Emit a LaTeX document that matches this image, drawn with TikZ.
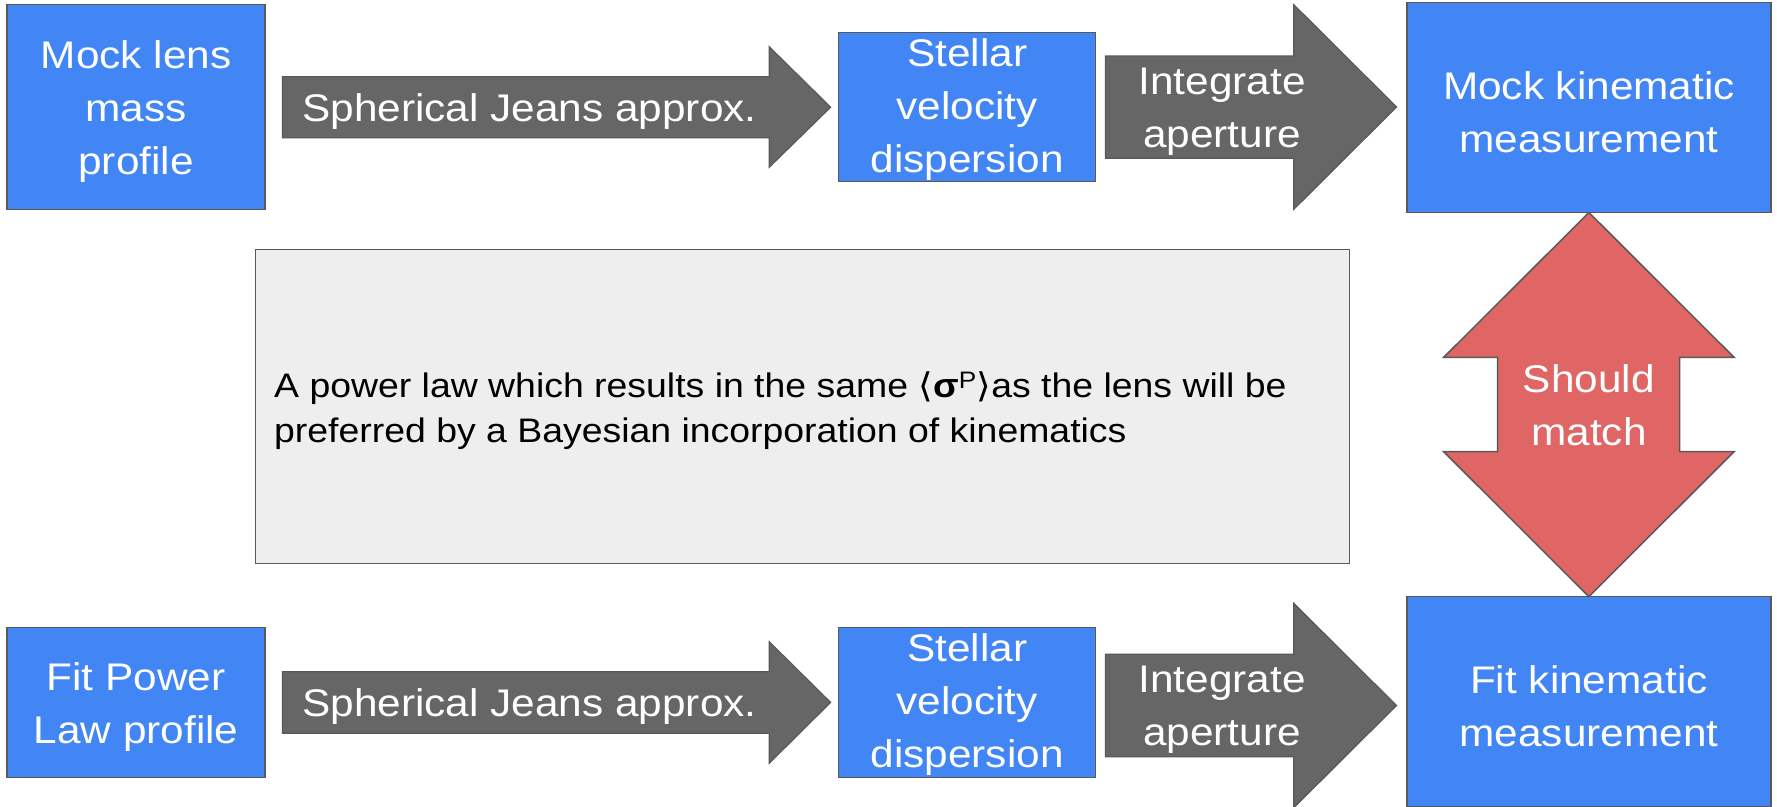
\documentclass[tikz,border=0pt]{standalone}
\usepackage{fontspec}
\setmainfont{Liberation Sans}[FakeStretch=1.1]
\newfontfamily\brkfont{DejaVu Sans}[FakeStretch=1.1]

\definecolor{gblue}{HTML}{4285F4}
\definecolor{garrow}{HTML}{666666}
\definecolor{gred}{HTML}{E06666}
\definecolor{gpanel}{HTML}{EEEEEE}
\definecolor{gedge}{HTML}{595959}

\newcommand\lblfont{\fontsize{38.5}{53}\selectfont}
\newcommand\notefont{\fontsize{34}{45}\selectfont}

\begin{document}
\begin{tikzpicture}[x=1pt,y=-1pt,
  box/.style={draw=gedge, line width=1.5pt, fill=gblue,
    inner sep=0pt, outer sep=0pt},
  barrow/.style={draw=gedge, line width=1.2pt, fill=garrow, line join=miter},
  rarrow/.style={draw=gedge, line width=1.5pt, fill=gred, line join=miter},
  alabel/.style={text=white, inner sep=0pt, align=center, font=\lblfont, yshift=-4.5pt},
  panel/.style={draw=gedge, line width=1.5pt, fill=gpanel,
    inner sep=0pt, outer sep=0pt}]

\useasboundingbox (0,0) rectangle (1777,806);
\fill[white] (0,0) rectangle (1777,806);

% central note panel
\node[panel, minimum width=1093.6, minimum height=314] (note) at (802.5,406.3) {};
\node[anchor=west, inner sep=0pt, align=left, font=\notefont, text=black] (notetext)
  at (274,411) {A power law which results in the same {\brkfont ⟨}{\bfseries σ}\textsuperscript{P}{\brkfont ⟩}as the lens will be\\
  preferred by a Bayesian incorporation of kinematics};

% block arrows, top row
\draw[barrow] (282.4,76.7) -- (769.2,76.7) -- (769.2,46.7) -- (830.6,107.2)
  -- (769.2,167.3) -- (769.2,137.7) -- (282.4,137.7) -- cycle;
\draw[barrow] (1105.4,56) -- (1293.8,56) -- (1293.8,4.7) -- (1396.5,107)
  -- (1293.8,209.3) -- (1293.8,158.3) -- (1105.4,158.3) -- cycle;
% block arrows, bottom row
\draw[barrow] (282.4,671.7) -- (769.2,671.7) -- (769.2,641.7) -- (830.6,702.4)
  -- (769.2,763.3) -- (769.2,733.3) -- (282.4,733.3) -- cycle;
\draw[barrow] (1105.4,654.3) -- (1293.8,654.3) -- (1293.8,603.3) -- (1396.5,705.5)
  -- (1293.8,807.7) -- (1293.8,756.7) -- (1105.4,756.7) -- cycle;

\node[alabel] (jeansA) at (529.5,107.2) {Spherical Jeans approx.};
\node[alabel] (integA) at (1222,107) {Integrate\\aperture};
\node[alabel] (jeansB) at (529.5,702.5) {Spherical Jeans approx.};
\node[alabel] (integB) at (1222,705.5) {Integrate\\aperture};

% top row boxes
\node[box, minimum width=258.3, minimum height=204.6] (mocklens) at (136.05,107) {};
\node[box, minimum width=257.2, minimum height=149.4] (sveltop) at (967.1,107) {};
\node[box, minimum width=364.2, minimum height=210.2] (mockkin) at (1588.9,107.4) {};
\node[alabel] (mocklensT) at (mocklens.center) {Mock lens\\mass\\profile};
\node[alabel] (sveltopT) at ([yshift=2pt]sveltop.center) {Stellar\\velocity\\dispersion};
\node[alabel] (mockkinT) at (mockkin.center) {Mock kinematic\\measurement};

% bottom row boxes
\node[box, minimum width=258.3, minimum height=149.6] (fitpl) at (136.05,702.5) {};
\node[box, minimum width=257.2, minimum height=149.6] (svelbot) at (967.1,702.5) {};
\node[box, minimum width=364.2, minimum height=210.2] (fitkin) at (1588.9,701.8) {};
\node[alabel] (fitplT) at (fitpl.center) {Fit Power\\Law profile};
\node[alabel] (svelbotT) at ([yshift=2pt]svelbot.center) {Stellar\\velocity\\dispersion};
\node[alabel] (fitkinT) at (fitkin.center) {Fit kinematic\\measurement};

% double-headed comparison arrow between the two measurements
\coordinate (dtop) at (mockkin.south);
\coordinate (dbot) at (fitkin.north);
\draw[rarrow] (dtop) -- (1734,357.3) -- (1679.7,357.3) -- (1679.7,451.7)
  -- (1734,451.7) -- (dbot) -- (1443.7,451.7) -- (1497.7,451.7)
  -- (1497.7,357.3) -- (1443.7,357.3) -- cycle;
\node[alabel] (matchT) at (1588.9,401) {Should\\match};
\end{tikzpicture}
\end{document}
